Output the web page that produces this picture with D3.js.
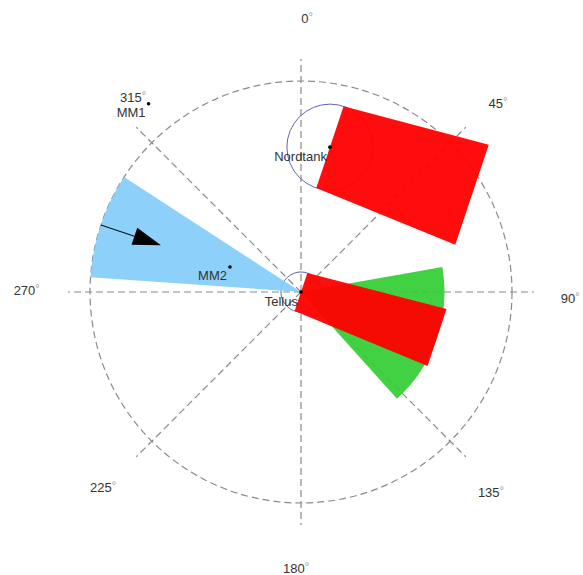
<!DOCTYPE html>
<html><head><meta charset="utf-8">
<script src="https://cdn.jsdelivr.net/npm/d3@7/dist/d3.min.js"></script>
<style>body{margin:0;background:#fff}svg{display:block}</style>
</head><body><svg id="c" width="583" height="575"></svg>
<script>
// ---- data (bearings in degrees clockwise from north, distances relative to outer circle = 1) ----
const directionTicks = [0, 45, 90, 135, 180, 225, 270, 315];
const tickLabels = ["0", "45", "90", "135", "180", "225", "270", "315"];
const inflowSector = [274, 303];          // blue sector
const inflowRadius = 1.0;
const windFrom = 288.5;                   // arrow bearing
const arrowRange = [1.0, 0.70];           // arrow start / tip distance
const freeSector = [80, 138];             // green sector
const freeSectorRadius = 0.68;
const turbineNames = ["Nordtank", "Tellus"];
const turbineBearing = [11.3, 0];
const turbineDistance = [0.70, 0];
const turbineRadius = [0.204, 0.095];
const wakeLength = [0.71, 0.68];
const wakeEndHalfWidth = [0.25, 0.142];
const mastNames = ["MM1", "MM2"];
const mastBearing = [321, 289.4];
const mastDistance = [1.148, 0.357];

// ---- layout ----
const cx = 301, cy = 292, R = 211;
const svg = d3.select("#c");
const r = d3.scaleLinear().domain([0, 1]).range([0, R]);
const xs = d3.scaleLinear().domain([-1, 1]).range([cx - R, cx + R]);
const ys = d3.scaleLinear().domain([-1, 1]).range([cy + R, cy - R]);
const rad = d => d * Math.PI / 180;
const polar = (b, d) => [d * Math.sin(rad(b)), d * Math.cos(rad(b))];
const gridColor = "#8a8a8a";
const textColor = "#333";
const font = "'Liberation Sans', Arial, sans-serif";

const g = svg.append("g");
// grid lines
const axisLen = 1.104;
g.selectAll("line.grid").data(directionTicks).join("line")
  .attr("x1", xs(0)).attr("y1", ys(0))
  .attr("x2", d => xs(polar(d, axisLen)[0]))
  .attr("y2", d => ys(polar(d, axisLen)[1]))
  .attr("stroke", gridColor).attr("stroke-width", 1.2)
  .attr("stroke-dasharray", "7,4");
g.append("circle").attr("cx", xs(0)).attr("cy", ys(0)).attr("r", r(1))
  .attr("fill", "none").attr("stroke", gridColor).attr("stroke-width", 1.2)
  .attr("stroke-dasharray", "7,4");

// turbine circles (under the fills)
const turb = turbineNames.map((n, i) => {
  const p = polar(turbineBearing[i], turbineDistance[i]);
  return {name: n, x: p[0], y: p[1], rr: turbineRadius[i], L: wakeLength[i], w1: wakeEndHalfWidth[i]};
});
g.selectAll("circle.turb").data(turb).join("circle")
  .attr("cx", d => xs(d.x)).attr("cy", d => ys(d.y)).attr("r", d => r(d.rr))
  .attr("fill", "none").attr("stroke", "#6464b4").attr("stroke-width", 1);

// sectors
const arc = d3.arc();
g.append("path")
  .attr("transform", `translate(${xs(0)},${ys(0)})`)
  .attr("d", arc({innerRadius: 0, outerRadius: r(inflowRadius), startAngle: rad(inflowSector[0]), endAngle: rad(inflowSector[1])}))
  .attr("fill", "#87CEFA").attr("fill-opacity", 0.95);
g.append("path")
  .attr("transform", `translate(${xs(0)},${ys(0)})`)
  .attr("d", arc({innerRadius: 0, outerRadius: r(freeSectorRadius), startAngle: rad(freeSector[0]), endAngle: rad(freeSector[1])}))
  .attr("fill", "#32CD32").attr("fill-opacity", 0.92);

// wakes
const wakeDir = windFrom - 180;
const u = [Math.sin(rad(wakeDir)), Math.cos(rad(wakeDir))];
const v = [Math.cos(rad(wakeDir)), -Math.sin(rad(wakeDir))];
g.selectAll("path.wake").data(turb).join("path")
  .attr("d", d => {
    const pts = [
      [d.x - d.rr * v[0], d.y - d.rr * v[1]],
      [d.x + d.L * u[0] - d.w1 * v[0], d.y + d.L * u[1] - d.w1 * v[1]],
      [d.x + d.L * u[0] + d.w1 * v[0], d.y + d.L * u[1] + d.w1 * v[1]],
      [d.x + d.rr * v[0], d.y + d.rr * v[1]]
    ];
    return d3.line().x(p => xs(p[0])).y(p => ys(p[1]))(pts) + "Z";
  })
  .attr("fill", "#FF0000").attr("fill-opacity", 0.95);

// wind arrow
const a0 = polar(windFrom, arrowRange[0]), a1 = polar(windFrom, arrowRange[1]);
const X0 = xs(a0[0]), Y0 = ys(a0[1]), X1 = xs(a1[0]), Y1 = ys(a1[1]);
const len = Math.hypot(X1 - X0, Y1 - Y0), ux = (X1 - X0) / len, uy = (Y1 - Y0) / len;
const headL = 28, headW = 9;
g.append("line").attr("x1", X0).attr("y1", Y0)
  .attr("x2", X1 - ux * headL).attr("y2", Y1 - uy * headL)
  .attr("stroke", "#111").attr("stroke-width", 1.2);
g.append("path").attr("d", `M${X1},${Y1}L${X1 - ux * headL - uy * headW},${Y1 - uy * headL + ux * headW}L${X1 - ux * headL + uy * headW},${Y1 - uy * headL - ux * headW}Z`)
  .attr("fill", "#000");

// turbine & mast markers
const masts = mastNames.map((n, i) => { const p = polar(mastBearing[i], mastDistance[i]); return {name: n, x: p[0], y: p[1]}; });
const marks = turb.concat(masts);
g.selectAll("circle.dot").data(marks).join("circle")
  .attr("cx", d => xs(d.x)).attr("cy", d => ys(d.y)).attr("r", 1.8).attr("fill", "#000");
g.selectAll("text.name").data(marks).join("text")
  .attr("x", d => xs(d.x) - 3).attr("y", d => ys(d.y) + 13.5)
  .attr("text-anchor", "end").attr("font-family", font).attr("font-size", 13)
  .attr("fill", textColor).text(d => d.name);

// direction labels
const labelR = 1.3;
const nudge = {0: [6, 0], 45: [3, 5], 90: [-5, 6], 135: [-4, 6], 180: [-5, 2], 225: [-4, 1], 270: [0, -2], 315: [26, -1]};
const lab = g.selectAll("text.dir").data(directionTicks).join("text")
  .attr("x", d => xs(polar(d, labelR)[0]) + nudge[d][0])
  .attr("y", d => ys(polar(d, labelR)[1]) + nudge[d][1])
  .attr("text-anchor", "middle").attr("dominant-baseline", "central")
  .attr("font-family", font).attr("font-size", 13).attr("fill", textColor);
lab.append("tspan").text((d, i) => tickLabels[i]);
lab.append("tspan").attr("fill", "#9a9a9a").attr("font-size", 11).attr("dy", -2).text("°");
</script></body></html>
